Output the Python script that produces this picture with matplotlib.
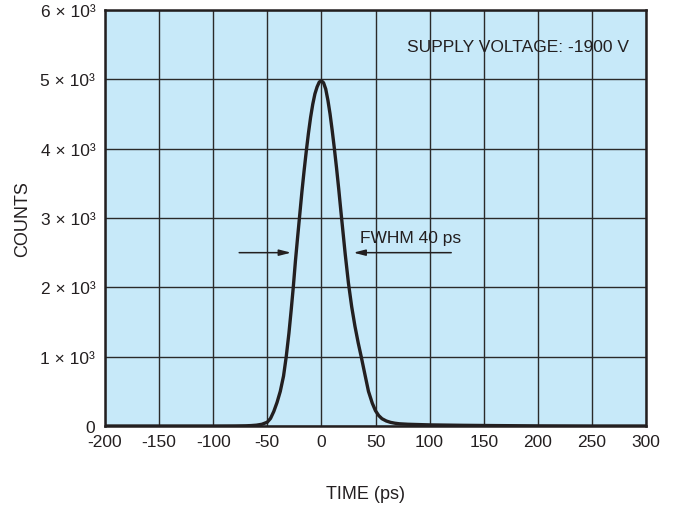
import matplotlib
matplotlib.use("Agg")
import matplotlib.pyplot as plt

plt.rcParams['font.family'] = ['Liberation Sans', 'DejaVu Sans']

# Curve (time in ps, counts)
time_ps = [-200, -150, -100, -80, -70, -65, -60, -55, -50, -47, -44, -41, -38, -35,
           -32.5, -30, -28, -26, -24, -22, -20, -18, -16, -14, -12, -10, -8, -6, -4,
           -2, 0, 2, 4, 6, 8, 10, 12, 14, 16, 18, 20, 22, 25, 28, 31, 34, 36.8, 40,
           43.5, 47, 50, 53, 56, 60, 64, 68, 72, 80, 100, 130, 160, 200, 250, 300]
counts = [0, 0, 0, 1, 3, 6, 12, 25, 55, 110, 210, 340, 500, 720,
          1000, 1340, 1660, 2000, 2380, 2720, 3050, 3380, 3680, 3960, 4220, 4450, 4640,
          4790, 4890, 4960, 4980, 4950, 4860, 4700, 4500, 4260, 4000, 3720, 3420, 3100,
          2790, 2480, 2060, 1720, 1440, 1200, 1000, 760, 500, 330, 220, 150, 105, 72,
          52, 40, 32, 25, 16, 10, 6, 2, 0, 0]

x_ticks = [-200, -150, -100, -50, 0, 50, 100, 150, 200, 250, 300]
y_ticks = [0, 1000, 2000, 3000, 4000, 5000, 6000]
y_tick_labels = ['0', '1 × 10³', '2 × 10³', '3 × 10³', '4 × 10³', '5 × 10³', '6 × 10³']

W, H = 678, 510
fig = plt.figure(figsize=(W / 100, H / 100), dpi=100)
left, right, top, bottom = 105, 646, 11, 427
ax = fig.add_axes([left / W, (H - bottom) / H, (right - left) / W, (bottom - top) / H])

ax.set_facecolor('#c7e9f9')
ax.set_xlim(-200, 300)
ax.set_ylim(0, 6000)
ax.set_xticks(x_ticks)
ax.set_xticklabels([str(v) for v in x_ticks])
ax.set_yticks(y_ticks)
ax.set_yticklabels(y_tick_labels)
ax.tick_params(length=0, labelsize=12.5, colors='#231f20', pad=7)
ax.tick_params(axis='x', pad=6)

ax.grid(True, color='#2a2a2a', linewidth=1.0)
ax.set_axisbelow(True)
for s in ax.spines.values():
    s.set_linewidth(1.8)
    s.set_color('#231f20')

ax.plot(time_ps, counts, color='#231f20', linewidth=2.4, solid_capstyle='round',
        solid_joinstyle='round', zorder=3)

arrow_style = dict(arrowstyle='-|>,head_length=0.7,head_width=0.18', color='#231f20',
                   lw=1.1, shrinkA=0, shrinkB=0)
ax.annotate('', xy=(-28, 2500), xytext=(-76, 2500), arrowprops=arrow_style, zorder=4)
ax.annotate('', xy=(29.6, 2500), xytext=(120, 2500), arrowprops=arrow_style, zorder=4)

ax.text(36, 2722, 'FWHM 40 ps', fontsize=12.5, color='#231f20', va='center', ha='left')
ax.text(79, 5470, 'SUPPLY VOLTAGE: -1900 V', fontsize=12.5, color='#231f20',
        va='center', ha='left')

fig.text(23 / W, 1 - 219 / H, 'COUNTS', rotation=90, fontsize=13, color='#231f20',
         ha='center', va='center')
fig.text(366 / W, 1 - 495 / H, 'TIME (ps)', fontsize=13, color='#231f20',
         ha='center', va='center')

fig.savefig('out.png', dpi=100)
